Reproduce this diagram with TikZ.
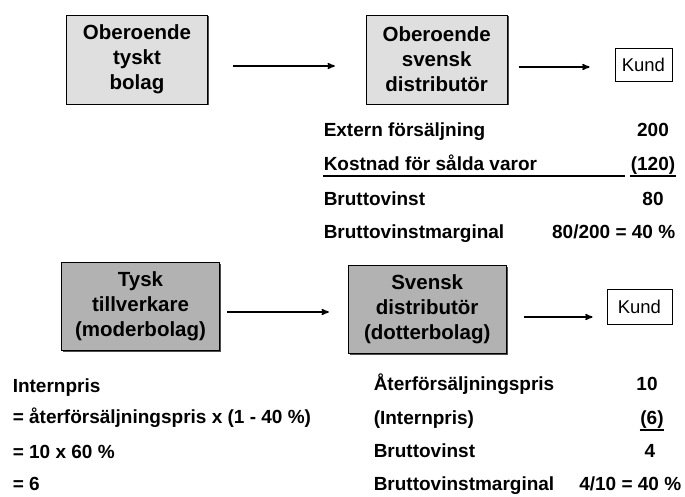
\documentclass[tikz,border=0pt]{standalone}
\usepackage{fontspec}
\setmainfont{Liberation Sans}
\usetikzlibrary{arrows,positioning,shadows}

\begin{document}
\begin{tikzpicture}[x=1pt,y=-1pt,->,>=stealth',line width=1.5pt,
    firm/.style={draw,line width=0.7pt,align=center,inner sep=0pt,
      font=\fontsize{20.5}{25}\selectfont\bfseries,
      drop shadow={shadow xshift=1.5pt,shadow yshift=-1.5pt,fill=black!70,opacity=1}},
    oberoende/.style={firm,fill=gray!25,minimum width=141pt,minimum height=89pt},
    koncern/.style={firm,fill=gray!60,minimum width=158pt,minimum height=88pt},
    kund/.style={draw,line width=0.7pt,inner sep=0pt,minimum height=33pt,
      font=\fontsize{18.5}{22}\selectfont},
    rad/.style={anchor=base west,inner sep=0pt,font=\fontsize{19}{22}\selectfont\bfseries},
    tal/.style={anchor=base,inner sep=0pt,font=\fontsize{19}{22}\selectfont\bfseries},
    uline/.style={-,line width=2pt}]
  \useasboundingbox (0,0) rectangle (685,497);

  % oberoende parter
  \node[oberoende] (tyskt)  at (137,59.5)                 {Oberoende\\tyskt\\bolag};
  \node[oberoende] (svensk) [right=158pt of tyskt]       {Oberoende\\svensk\\distributör};
  \node[kund, minimum width=57pt] (kund) [right=107pt of svensk, yshift=-5.5pt] {Kund};

  \path ([yshift=-6.5pt]tyskt.east)  edge [shorten <=25pt, shorten >=31pt] ([yshift=-6.5pt]svensk.west)
        ([yshift=-7.5pt]svensk.east) edge [shorten <=11pt, shorten >=25pt] ([yshift=-2pt]kund.west);

  \node[rad] (ext)  at (323,137) {Extern försäljning};
  \node[rad] (kost) at (323,171) {Kostnad för sålda varor};
  \node[rad] (bv)   at (323,205) {Bruttovinst};
  \node[rad] (bvm)  at (323,238) {Bruttovinstmarginal};
  \node[tal] (ext v)  at (653,137) {200};
  \node[tal] (kost v) at (653,171) {(120)};
  \node[tal] (bv v)   at (653,205) {80};
  \node[tal, anchor=base east] (bvm v) at (676,238) {80/200 = 40 \%};
  \draw[uline] ([yshift=-5.5pt]kost.base west) -- ++(302,0);
  \draw[uline] ([yshift=-5.5pt]kost v.base west) -- ([yshift=-5.5pt]kost v.base east);

  % koncernen
  \node[koncern] (moder)  at (140.5,306)                        {Tysk\\tillverkare\\(moderbolag)};
  \node[koncern] (dotter) [right=128pt of moder, yshift=-3.5pt] {Svensk\\distributör\\(dotterbolag)};
  \node[kund, minimum width=65pt, minimum height=35pt] (kund2) [right=100pt of dotter, yshift=3pt] {Kund};

  \path ([yshift=-6pt]moder.east)   edge [shorten <=7pt, shorten >=19pt]  ([yshift=-2.5pt]dotter.west)
        ([yshift=-7.5pt]dotter.east) edge [shorten <=17pt, shorten >=14pt] ([yshift=-10.5pt]kund2.west);

  \node[rad] (ip)   at (12,392) {Internpris};
  \node[rad] (ip1)  at (12,423) {= återförsäljningspris x (1 - 40 \%)};
  \node[rad] (ip2)  at (12,458) {= 10 x 60 \%};
  \node[rad] (ip3)  at (12,490) {= 6};

  \node[rad] (afp)  at (373,390) {Återförsäljningspris};
  \node[rad] (inp)  at (373,424) {(Internpris)};
  \node[rad] (bv2)  at (373,457) {Bruttovinst};
  \node[rad] (bvm2) at (373,490) {Bruttovinstmarginal};
  \node[tal] (afp v) at (647,390) {10};
  \node[tal] (inp v) at (652,424) {(6)};
  \node[tal] (bv2 v) at (650,457) {4};
  \node[tal, anchor=base east] (bvm2 v) at (682,490) {4/10 = 40 \%};
  \draw[uline] ([yshift=-5.5pt]inp v.base west) -- ([yshift=-5.5pt]inp v.base east);
\end{tikzpicture}
\end{document}
